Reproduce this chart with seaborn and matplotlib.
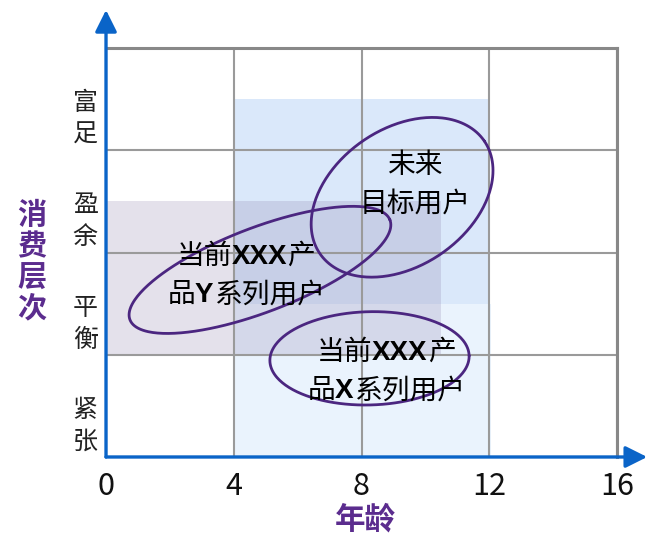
import numpy as np
import seaborn as sns
import matplotlib.pyplot as plt
import matplotlib.transforms as mtransforms
from matplotlib.patches import Rectangle
from matplotlib.offsetbox import TextArea, HPacker, VPacker, AnnotationBbox

# axis values
x_ticks = [0, 4, 8, 12, 16]
y_grid = [0, 1, 2, 3, 4]
y_levels = ['紧\n张', '平\n衡', '盈\n余', '富\n足']
y_level_pos = [0.5, 1.5, 2.5, 3.5]

# shaded zones (age range x consumption range)
zone_x0 = [4, 4, 0]
zone_x1 = [12, 12.05, 10.5]
zone_y0 = [1.5, 0, 1.0]
zone_y1 = [3.5, 1.5, 2.5]
zone_colors = ['#DAE8FA', '#EAF3FD', '#8779A7']
zone_alpha = [1, 1, 0.22]

# user groups drawn as ellipses (centre, semi axes in age units, tilt on screen)
group_cx = [9.27, 4.82, 8.25]
group_cy = [2.54, 1.83, 0.965]
group_a = [3.12, 4.36, 3.12]
group_b = [2.15, 1.32, 1.46]
group_tilt = [34.4, 21, 1.5]

# group labels, each line split in (text, bold) pieces
label_x = [9.68, 4.38, 8.77]
label_y = [2.67, 1.78, 0.84]
label_lines = [
    [[('未来', False)], [('目标用户', False)]],
    [[('当前', False), ('XXX', True), ('产', False)],
     [('品', False), ('Y', True), ('系列用户', False)]],
    [[('当前', False), ('XXX', True), ('产', False)],
     [('品', False), ('X', True), ('系列用户', False)]],
]

blue = '#0A64C8'
purple = '#5B2C8E'
ring = '#4B2680'

sns.set_theme(style='white')
plt.rcParams['font.family'] = ['Noto Sans CJK SC', 'DejaVu Sans']

fig = plt.figure(figsize=(6.48, 5.36), dpi=100)
ax = fig.add_axes([0.1636, 0.1474, 0.7886, 0.763])
ax.set_xlim(0, 16)
ax.set_ylim(0, 4)

# zones
for x0, x1, y0, y1, c, al in zip(zone_x0, zone_x1, zone_y0, zone_y1, zone_colors, zone_alpha):
    ax.add_patch(Rectangle((x0, y0), x1 - x0, y1 - y0, facecolor=c, alpha=al,
                           edgecolor='none', zorder=0.2))

# grid
ax.set_axisbelow(True)
ax.set_xticks(x_ticks)
ax.set_yticks(y_grid)
ax.set_yticklabels([])
ax.set_yticks(y_level_pos, minor=True)
ax.set_yticklabels(y_levels, minor=True, fontsize=18, color='#222222', linespacing=1.3)
ax.grid(which='major', color='#9A9A9A', lw=1.5)
ax.tick_params(axis='x', length=0, pad=10, labelsize=22, labelcolor='#111111')
ax.tick_params(axis='y', which='both', length=0, pad=6)
off = mtransforms.ScaledTranslation(0, -0.14, fig.dpi_scale_trans)
for lab in ax.get_yticklabels(minor=True):
    lab.set_transform(lab.get_transform() + off)

for s in ['top', 'right']:
    ax.spines[s].set_color('#888888')
    ax.spines[s].set_linewidth(2.2)
for s in ['left', 'bottom']:
    ax.spines[s].set_visible(False)

# axis arrows
arrow = dict(arrowstyle='-|>,head_length=1.1,head_width=0.55', color=blue, lw=2.4,
             shrinkA=0, shrinkB=0)
ax.annotate('', xy=(0, 1.093), xytext=(0, 0), xycoords='axes fraction',
            arrowprops=arrow, annotation_clip=False)
ax.annotate('', xy=(1.059, 0), xytext=(0, 0), xycoords='axes fraction',
            arrowprops=arrow, annotation_clip=False)

# ellipses
ratio = (536 * 0.763 / 4) / (648 * 0.7886 / 16)
t = np.linspace(0, 2 * np.pi, 300)
for cx, cy, a, b, tilt in zip(group_cx, group_cy, group_a, group_b, group_tilt):
    th = np.radians(tilt)
    ex = cx + a * np.cos(t) * np.cos(th) - b * np.sin(t) * np.sin(th)
    ey = cy + (a * np.cos(t) * np.sin(th) + b * np.sin(t) * np.cos(th)) / ratio
    sns.lineplot(x=ex, y=ey, sort=False, estimator=None, color=ring, lw=2, ax=ax, zorder=3)

# labels inside the ellipses
for lx, ly, lines in zip(label_x, label_y, label_lines):
    rows = []
    for pieces in lines:
        parts = []
        for txt, bold in pieces:
            if bold:
                props = dict(fontsize=20, fontweight='bold', family=['Liberation Sans'], color='black')
            else:
                props = dict(fontsize=20, family=['Noto Sans CJK SC'], color='black')
            parts.append(TextArea(txt, textprops=props))
        rows.append(HPacker(children=parts, align='baseline', pad=0, sep=0))
    box = VPacker(children=rows, align='center', pad=0, sep=6)
    ax.add_artist(AnnotationBbox(box, (lx, ly), xycoords='data', frameon=False,
                                 box_alignment=(0.5, 0.5), pad=0, zorder=4))

ax.set_xlabel('年龄', fontsize=22, fontweight='bold', color=purple, va='center')
ax.xaxis.set_label_coords(0.507, -0.154)
ax.set_ylabel('消\n费\n层\n次', fontsize=21, fontweight='bold', color=purple,
              rotation=0, ha='center', va='center', linespacing=1.05)
ax.yaxis.set_label_coords(-0.145, 0.477)

plt.savefig('out.png', dpi=100)
